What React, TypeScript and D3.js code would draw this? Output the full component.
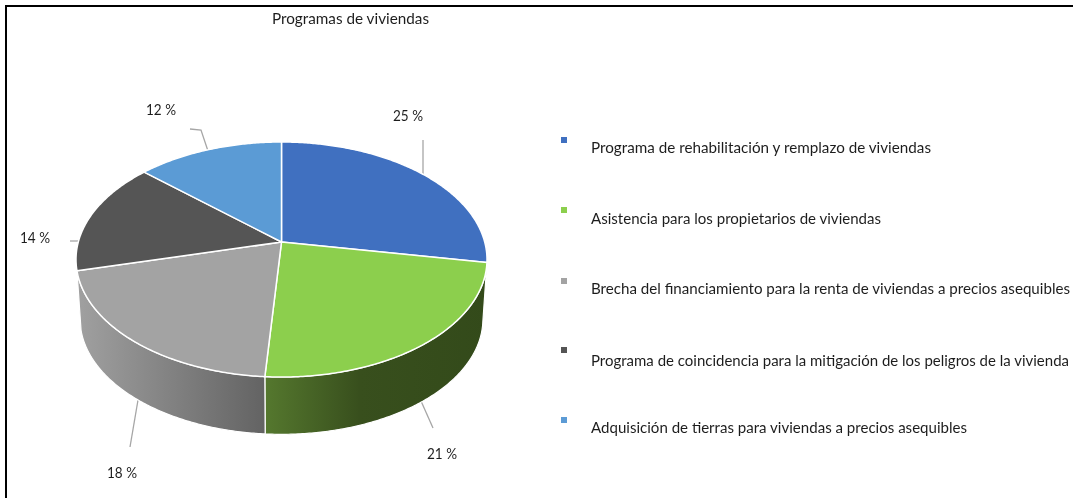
import React from "react";
import * as d3 from "d3";

const title = "Programas de viviendas";
const categories = [
  "Programa de rehabilitación y remplazo de viviendas",
  "Asistencia para los propietarios de viviendas",
  "Brecha del financiamiento para la renta de viviendas a precios asequibles",
  "Programa de coincidencia para la mitigación de los peligros de la vivienda",
  "Adquisición de tierras para viviendas a precios asequibles",
];
const values = [25, 21, 18, 14, 12];
const labels = ["25 %", "21 %", "18 %", "14 %", "12 %"];
const colors = ["#4070c0", "#8ccf4d", "#a3a3a3", "#555555", "#5b9bd5"];

const W = 1073, H = 498;
const FONT = "Lato, 'Open Sans', sans-serif";
const cx = 281.5, cy = 242, persp = -0.149, bx = 203.2, by = 114.9;

function project(theta: number, scale = 1, dy = 0): [number, number] {
  const x = Math.sin(theta), y = -Math.cos(theta);
  const d = 1 + persp * y;
  return [cx + (scale * bx * x) / d, cy + dy + (scale * by * y) / d];
}
function arcPts(a: number, b: number, scale = 1, dy = 0) {
  const n = Math.max(2, Math.ceil(Math.abs(b - a) / 0.01));
  return d3.range(n + 1).map((i) => project(a + ((b - a) * i) / n, scale, dy));
}
const line = d3.line();
const arcs = d3.pie<number>().sort(null)(values);

const BOT_S = 0.98, BOT_DY = 60;

const labelPos = [
  { x: 408, y: 116, lead: [[423, 140], [423, 176]] },
  { x: 442, y: 454, lead: [[421, 401], [433, 428]] },
  { x: 122, y: 473, lead: [[138, 400], [130, 447]] },
  { x: 35, y: 238, lead: [[70, 241], [80, 241]] },
  { x: 161, y: 110, lead: [[190, 129], [201, 130], [208, 151]] },
];
const legendBaseline = [153, 224, 294, 366, 433];
const swatchCenter = [140, 210, 281, 350, 420];
const legendWidth = [340, 290, 479, 478, 376];

export default function App() {
  const sides = arcs.slice(1, 3);
  return (
    <svg width={W} height={H} viewBox={`0 0 ${W} ${H}`} style={{ position: "absolute", left: 0, top: 0, background: "#fff" }} fontFamily={FONT}>
      <defs>
        <linearGradient id="side-green" gradientUnits="userSpaceOnUse" x1="265" x2="490" y1="0" y2="0">
          <stop offset="0" stopColor="#55782e" />
          <stop offset="0.42" stopColor="#384f1d" />
          <stop offset="1" stopColor="#334a1a" />
        </linearGradient>
        <linearGradient id="side-gray" gradientUnits="userSpaceOnUse" x1="265" x2="78" y1="0" y2="0">
          <stop offset="0" stopColor="#636363" />
          <stop offset="1" stopColor="#a0a0a0" />
        </linearGradient>
        <filter id="soft" x="-2%" y="-20%" width="104%" height="140%">
          <feGaussianBlur stdDeviation="0.35" />
        </filter>
      </defs>
      <rect x="0" y="0" width={W} height={H} fill="#fff" />
      <path d="M6,498 V6 H1073" fill="none" stroke="#000" strokeWidth="2" />

      <g filter="url(#soft)" fill="#1f1f1f">
        <text x={272} y={24} fontSize={16} textLength={157} lengthAdjust="spacingAndGlyphs">{title}</text>

        {labels.map((t, i) => (
          <text key={t} x={labelPos[i].x - 15} y={labelPos[i].y + 5} fontSize={16} textLength={30} lengthAdjust="spacingAndGlyphs">{t}</text>
        ))}

        {categories.map((c, i) => (
          <text key={c} x={591} y={legendBaseline[i]} fontSize={16} textLength={legendWidth[i]} lengthAdjust="spacingAndGlyphs">{c}</text>
        ))}
      </g>

      {labelPos.map((l, i) => (
        <path key={i} d={line(l.lead as [number, number][]) ?? ""} fill="none" stroke="#a6a6a6" strokeWidth={1.3} />
      ))}

      {sides.map((a, i) => {
        const top = arcPts(a.startAngle, a.endAngle);
        const bottom = arcPts(a.endAngle, a.startAngle, BOT_S, BOT_DY);
        return (
          <path key={i} d={(line([...top, ...bottom]) ?? "") + "Z"} fill={`url(#${i === 0 ? "side-green" : "side-gray"})`} stroke="#fff" strokeWidth={1.2} />
        );
      })}

      {arcs.map((a, i) => (
        <path key={i} d={(line([[cx, cy], ...arcPts(a.startAngle, a.endAngle)]) ?? "") + "Z"} fill={colors[i]} stroke="#fff" strokeWidth={1.5} strokeLinejoin="round" />
      ))}

      {categories.map((c, i) => (
        <rect key={c} x={561} y={swatchCenter[i] - 3} width={6} height={6} fill={colors[i]} filter="url(#soft)" />
      ))}
    </svg>
  );
}
